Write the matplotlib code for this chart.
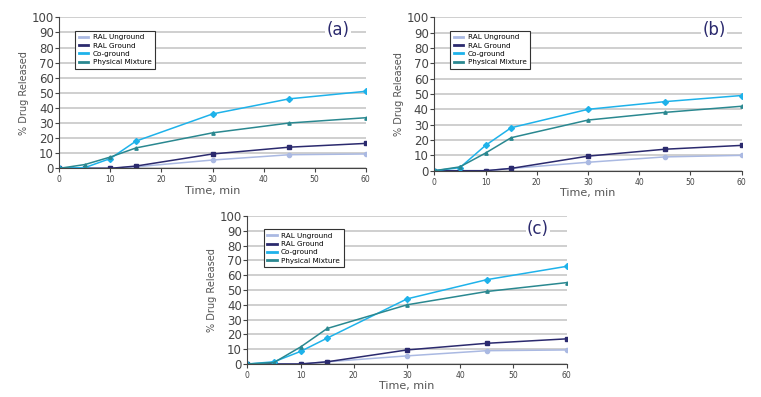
import matplotlib
matplotlib.use('Agg')
import matplotlib.pyplot as plt

# time points (min)
time = [0, 5, 10, 15, 30, 45, 60]

# panel (a)
a_unground = [0, 0, 0, 1, 5.5, 9, 9.5]
a_ground = [0, 0, 0, 1.5, 9.5, 14, 16.5]
a_coground = [0, 0.5, 6.5, 18, 36, 46, 51]
a_physmix = [0, 2.5, 7.5, 13.5, 23.5, 30, 33.5]

# panel (b)
b_unground = [0, 0, 0, 1.5, 5.5, 9, 10]
b_ground = [0, 0, 0, 1.5, 9.5, 14, 16.5]
b_coground = [0, 2, 16.5, 28, 40, 45, 49]
b_physmix = [0, 2.5, 11.5, 21.5, 33, 38, 42]

# panel (c)
c_unground = [0, 0, 0, 1.5, 5.5, 9, 9.5]
c_ground = [0, 0, 0, 1.5, 9.5, 14, 17]
c_coground = [0, 1.5, 8.5, 17.5, 44, 57, 66]
c_physmix = [0, 1, 11.5, 24, 40, 49, 55]

labels = ['RAL Unground', 'RAL Ground', 'Co-ground', 'Physical Mixture']
colors = ['#aab9e2', '#2b2a6e', '#1eb2ea', '#2a8890']
markers = ['o', 's', 'D', '^']
msizes = [3, 2.8, 3, 2.4]

fig = plt.figure(figsize=(7.61, 3.97), dpi=100)

panels = [
    ('(a)', [0.078, 0.576, 0.4025, 0.3804], [a_unground, a_ground, a_coground, a_physmix]),
    ('(b)', [0.5707, 0.570, 0.4039, 0.3866], [b_unground, b_ground, b_coground, b_physmix]),
    ('(c)', [0.325, 0.0831, 0.4197, 0.3728], [c_unground, c_ground, c_coground, c_physmix]),
]

for tag, rect, series in panels:
    ax = fig.add_axes(rect)
    for vals, lab, col, mk, ms in zip(series, labels, colors, markers, msizes):
        ax.plot(time, vals, color=col, marker=mk, markersize=ms, linewidth=1.1, label=lab)
    ax.set_xlim(0, 60)
    ax.set_ylim(0, 100)
    ax.set_xticks(range(0, 61, 10))
    ax.set_yticks(range(0, 101, 10))
    ax.yaxis.grid(True, color='#cccccc', linewidth=1.3)
    ax.set_axisbelow(True)
    for s in ['top', 'right']:
        ax.spines[s].set_visible(False)
    ax.spines['left'].set_color('#444444')
    ax.spines['bottom'].set_color('#444444')
    ax.tick_params(axis='y', labelsize=8.5, colors='#444444', length=3, pad=1)
    ax.tick_params(axis='x', labelsize=5.5, colors='#444444', length=3, pad=2)
    ax.set_xlabel('Time, min', fontsize=8, color='#555555', labelpad=1)
    ax.set_ylabel('% Drug Released', fontsize=7, color='#555555', labelpad=2)
    leg = ax.legend(loc='upper left', bbox_to_anchor=(0.04, 0.935), fontsize=5.2,
                    frameon=True, fancybox=False, handlelength=1.3, handletextpad=0.6,
                    borderpad=0.5, labelspacing=0.3, markerscale=0)
    leg.get_frame().set_edgecolor('#333333')
    leg.get_frame().set_linewidth(0.8)
    leg.get_frame().set_alpha(1)
    for h in leg.legend_handles:
        h.set_marker('')
        h.set_linewidth(2)
    ax.text(0.91, 0.915, tag, transform=ax.transAxes, fontsize=12, color='#2b2a6e',
            ha='center', va='center',
            bbox=dict(facecolor='white', edgecolor='none', pad=1))

fig.savefig('out.png', dpi=100)
